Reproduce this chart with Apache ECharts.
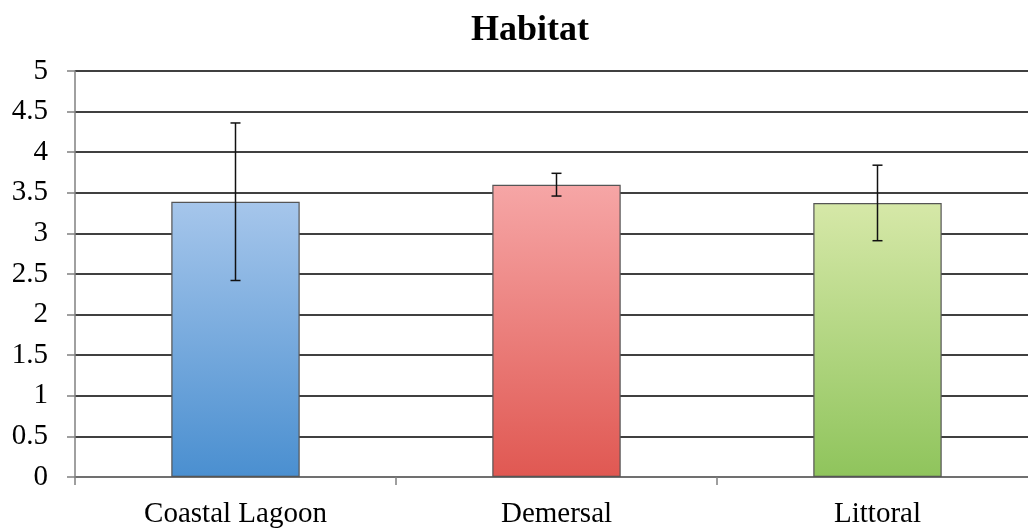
<!DOCTYPE html>
<html>
<head>
<meta charset="utf-8">
<script src="https://cdn.jsdelivr.net/npm/echarts@6/dist/echarts.min.js"></script>
<style>html,body{margin:0;padding:0;background:#fff;overflow:hidden}#c{width:1038px;height:529px}</style>
</head>
<body>
<div id="c"></div>
<script>
var categories = ['Coastal Lagoon', 'Demersal', 'Littoral'];
var means = [3.39, 3.60, 3.375];
var errors = [0.97, 0.14, 0.465];
var yTicks = ['0','0.5','1','1.5','2','2.5','3','3.5','4','4.5','5'];

var gradients = [
  ['#a6c6eb', '#4a8fd0'],
  ['#f6a6a6', '#e05852'],
  ['#d6e8a8', '#8fc45c']
];

var chart = echarts.init(document.getElementById('c'));
var font = '"Liberation Serif", "Times New Roman", serif';
chart.setOption({
  animation: false,
  title: {
    text: 'Habitat', left: 525, top: 8, textAlign: 'center',
    textStyle: { fontFamily: font, fontSize: 36, fontWeight: 'bold', color: '#000' }
  },
  grid: { left: 75, top: 71, right: 0, height: 406, outerBoundsMode: 'none', containLabel: false },
  xAxis: {
    type: 'category', data: categories,
    axisLine: { lineStyle: { color: '#808080', width: 1.5 } },
    axisTick: { show: true, length: 8, lineStyle: { color: '#808080', width: 1.5 } },
    axisLabel: { fontFamily: font, fontSize: 29, color: '#000', margin: 23 }
  },
  yAxis: {
    type: 'value', min: 0, max: 5, interval: 0.5,
    axisLine: { show: true, lineStyle: { color: '#808080', width: 1.5 } },
    axisTick: { show: true, length: 8, lineStyle: { color: '#808080', width: 1.5 } },
    splitLine: { lineStyle: { color: '#000', width: 1.6 } },
    axisLabel: {
      fontFamily: font, fontSize: 29, color: '#000', margin: 27,
      formatter: function (v) { return yTicks[Math.round(v * 2)]; }
    }
  },
  series: [
    {
      type: 'bar', barWidth: '40%',
      data: means.map(function (m, i) {
        return {
          value: m,
          itemStyle: {
            color: new echarts.graphic.LinearGradient(0, 0, 0, 1, [
              { offset: 0, color: gradients[i][0] },
              { offset: 1, color: gradients[i][1] }
            ]),
            borderColor: '#555', borderWidth: 1.2
          }
        };
      })
    },
    {
      type: 'custom',
      data: means.map(function (m, i) { return [i, m - errors[i], m + errors[i]]; }),
      renderItem: function (params, api) {
        var lo = api.coord([api.value(0), api.value(1)]);
        var hi = api.coord([api.value(0), api.value(2)]);
        var x = lo[0], c = 5;
        var st = { stroke: '#111', lineWidth: 1.5 };
        return {
          type: 'group',
          children: [
            { type: 'line', shape: { x1: x, y1: lo[1], x2: x, y2: hi[1] }, style: st },
            { type: 'line', shape: { x1: x - c, y1: lo[1], x2: x + c, y2: lo[1] }, style: st },
            { type: 'line', shape: { x1: x - c, y1: hi[1], x2: x + c, y2: hi[1] }, style: st }
          ]
        };
      },
      z: 10
    }
  ]
});
</script>
</body>
</html>
